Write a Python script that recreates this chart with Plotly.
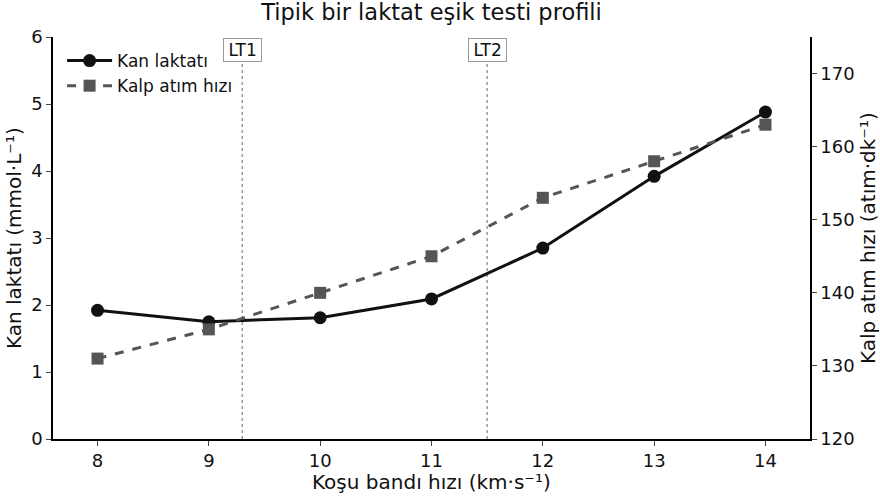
import plotly.graph_objects as go

speed = [8, 9, 10, 11, 12, 13, 14]
lactate = [1.92, 1.75, 1.81, 2.09, 2.85, 3.92, 4.88]
heart_rate = [131, 135, 140, 145, 153, 158, 163]
thresholds = [9.3, 11.5]
threshold_labels = ["LT1", "LT2"]

FONT = "DejaVu Sans"

fig = go.Figure()
fig.add_trace(go.Scatter(
    x=speed, y=lactate, name="Kan laktatı", mode="lines+markers",
    line=dict(color="#111111", width=3),
    marker=dict(symbol="circle", size=13, color="#111111"),
    yaxis="y"))
fig.add_trace(go.Scatter(
    x=speed, y=heart_rate, name="Kalp atım hızı", mode="lines+markers",
    line=dict(color="#555555", width=3, dash="dash"),
    marker=dict(symbol="square", size=12, color="#555555"),
    yaxis="y2"))

for xv, lab in zip(thresholds, threshold_labels):
    fig.add_shape(type="line", x0=xv, x1=xv, y0=0, y1=1, xref="x", yref="paper",
                  line=dict(color="#999999", width=1.5, dash="dot"), layer="below")
    fig.add_annotation(x=xv, y=0.968, xref="x", yref="paper",
                       text="\u2009" + lab + "\u2009",
                       xanchor="center", yanchor="middle",
                       showarrow=False, bgcolor="white", bordercolor="#999999",
                       borderwidth=1, borderpad=1,
                       font=dict(family=FONT, size=17, color="#111111"))

# axis titles as annotations for exact placement
fig.add_annotation(x=0, y=0.5, xref="paper", yref="paper", xshift=-39,
                   xanchor="center", yanchor="middle",
                   text="Kan laktatı (mmol·L⁻¹)", textangle=-90, showarrow=False,
                   font=dict(family=FONT, size=20, color="#111111"))
fig.add_annotation(x=1, y=0.5, xref="paper", yref="paper", xshift=58,
                   xanchor="center", yanchor="middle",
                   text="Kalp atım hızı (atım·dk⁻¹)", textangle=-90, showarrow=False,
                   font=dict(family=FONT, size=20, color="#111111"))
fig.add_annotation(x=0.5, y=0, xref="paper", yref="paper", yshift=-43,
                   xanchor="center", yanchor="middle", borderpad=0,
                   text="Koşu bandı hızı (km·s⁻¹)", showarrow=False,
                   font=dict(family=FONT, size=20, color="#111111"))

axis_common = dict(showgrid=False, zeroline=False, showline=True, linecolor="black",
                   linewidth=1.5, ticks="outside", ticklen=5, tickwidth=1.2,
                   automargin=False, tickfont=dict(family=FONT, size=18, color="#111111"))

fig.update_layout(
    width=880, height=500,
    margin=dict(l=53, r=70, t=37, b=61),
    paper_bgcolor="white", plot_bgcolor="white",
    font=dict(family=FONT, size=16, color="#111111"),
    title=dict(text="Tipik bir laktat eşik testi profili", x=0.5, xanchor="center",
               xref="paper", yref="container", y=1 - 12 / 500, yanchor="middle",
               font=dict(size=22.5, family=FONT)),
    showlegend=True,
    legend=dict(x=0.012, y=0.985, xanchor="left", yanchor="top", itemwidth=45,
                bgcolor="rgba(0,0,0,0)", font=dict(size=17, family=FONT)),
    xaxis=dict(range=[7.6, 14.4], tickvals=speed, **axis_common),
    yaxis=dict(range=[0, 6], dtick=1, **axis_common),
    yaxis2=dict(range=[120, 175], tickvals=[120, 130, 140, 150, 160, 170],
                overlaying="y", side="right", **axis_common),
)

fig.write_html("out.html", config={"displayModeBar": False},
               post_script="document.body.style.margin='0';")
